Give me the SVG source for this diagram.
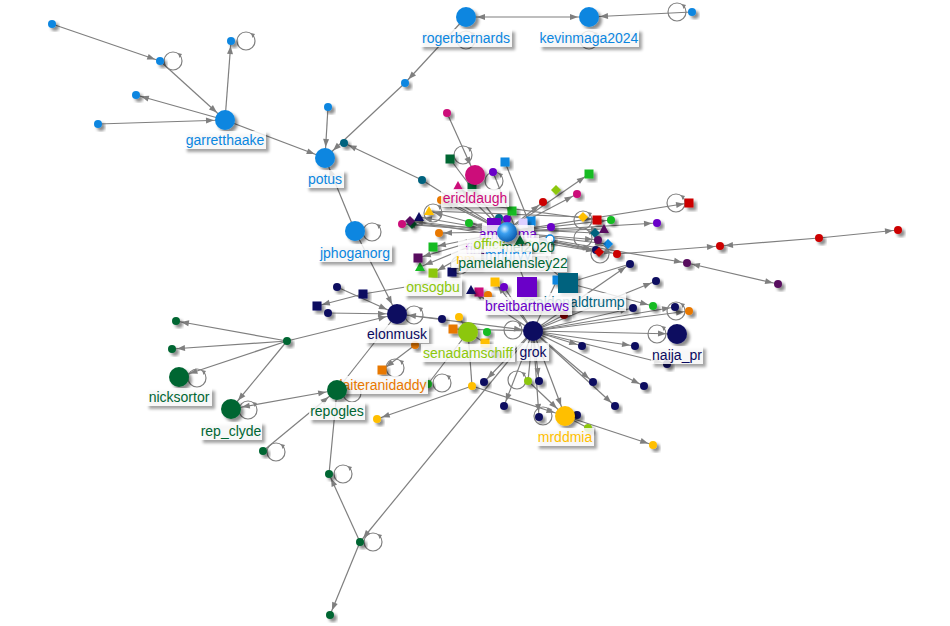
<svg xmlns="http://www.w3.org/2000/svg" xmlns:xlink="http://www.w3.org/1999/xlink" width="950" height="626" viewBox="0 0 950 626">
<style>
.e line{stroke:#7f7f7f;stroke-width:1.2;fill:none}
.a{marker-end:url(#ma)}.b{marker-end:url(#mb)}
.bb{marker-start:url(#mbs);marker-end:url(#mb)}.aa{marker-start:url(#mas);marker-end:url(#ma)}
.nd{filter:url(#sh)}
.lb rect{fill:#fff;fill-opacity:.8;filter:url(#ls)}
.lb text{font-family:"Liberation Sans",Arial,sans-serif;font-size:14px;text-anchor:middle}
.bl{fill:#0a86e0}.te{fill:#00627e}.mg{fill:#cc0a7a}.dg{fill:#006633}.nv{fill:#0a0a60}
.lm{fill:#8cc70a}.or{fill:#e87800}.yl{fill:#ffbf00}.pu{fill:#6a00c8}.rd{fill:#cc0000}
.gr{fill:#12bb22}.dp{fill:#580a5e}.lv{fill:#ddd0ff}.dr{fill:#8a0000}
</style>
<defs>
<marker id="ma" markerUnits="userSpaceOnUse" markerWidth="9" markerHeight="7" refX="13" refY="3" orient="auto" overflow="visible"><path d="M0,0L8,3L0,6z" fill="#7f7f7f"/></marker>
<marker id="mas" markerUnits="userSpaceOnUse" markerWidth="9" markerHeight="7" refX="13" refY="3" orient="auto-start-reverse" overflow="visible"><path d="M0,0L8,3L0,6z" fill="#7f7f7f"/></marker>
<marker id="mb" markerUnits="userSpaceOnUse" markerWidth="9" markerHeight="7" refX="19" refY="3" orient="auto" overflow="visible"><path d="M0,0L8,3L0,6z" fill="#7f7f7f"/></marker>
<marker id="mbs" markerUnits="userSpaceOnUse" markerWidth="9" markerHeight="7" refX="19" refY="3" orient="auto-start-reverse" overflow="visible"><path d="M0,0L8,3L0,6z" fill="#7f7f7f"/></marker>
<filter id="sh" x="-50%" y="-50%" width="200%" height="200%"><feDropShadow dx="3" dy="3" stdDeviation="1.6" flood-color="#000" flood-opacity=".45"/></filter>
<filter id="ls" x="-20%" y="-40%" width="140%" height="180%"><feDropShadow dx="3" dy="3" stdDeviation="1.6" flood-color="#000" flood-opacity=".45"/></filter>
<radialGradient id="sph" cx=".38" cy=".35" r=".7"><stop offset="0" stop-color="#d8eeff"/><stop offset=".35" stop-color="#3a9ff0"/><stop offset="1" stop-color="#0857a8"/></radialGradient>
<circle id="dt" r="4"/>
<rect id="sq" x="-4.5" y="-4.5" width="9" height="9"/>
<path id="di" d="M0,-5L5,0L0,5L-5,0z"/>
<path id="tr" d="M0,-5L5,4L-5,4z"/>
<g id="lp"><circle r="9" fill="none" stroke="#808080" stroke-width="1.2"/><path d="M5,-8l1.5,5l2.5,-4z" fill="#808080"/></g>
</defs>
<rect width="950" height="626" fill="#fff"/>
<g id="connectors" class="e">
<line x1="466" y1="17" x2="589" y2="17" class="bb"/>
<line x1="692" y1="12" x2="589" y2="17" class="b"/>
<line x1="466" y1="17" x2="405" y2="83" class="a"/>
<line x1="405" y1="83" x2="325" y2="158" class="b"/>
<line x1="328" y1="107" x2="325" y2="158" class="b"/>
<line x1="225" y1="120" x2="325" y2="158" class="b"/>
<line x1="52" y1="24" x2="160" y2="61" class="a"/>
<line x1="160" y1="61" x2="225" y2="120" class="b"/>
<line x1="225" y1="120" x2="231" y2="41" class="a"/>
<line x1="225" y1="120" x2="136" y2="95" class="a"/>
<line x1="98" y1="124" x2="225" y2="120" class="b"/>
<line x1="355" y1="231" x2="325" y2="158" class="b"/>
<line x1="355" y1="231" x2="397" y2="314" class="b"/>
<line x1="422" y1="180" x2="344" y2="143" class="a"/>
<line x1="505" y1="232" x2="422" y2="180"/>
<line x1="447" y1="113" x2="475" y2="175" class="b"/>
<line x1="450" y1="159" x2="505" y2="232"/>
<line x1="505" y1="162" x2="540" y2="250"/>
<line x1="493" y1="172" x2="520" y2="240"/>
<line x1="505" y1="232" x2="402" y2="224" class="a"/>
<line x1="505" y1="232" x2="410" y2="221" class="a"/>
<line x1="505" y1="232" x2="419" y2="217" class="a"/>
<line x1="505" y1="232" x2="429" y2="211" class="a"/>
<line x1="505" y1="232" x2="441" y2="200" class="a"/>
<line x1="505" y1="232" x2="446" y2="200" class="a"/>
<line x1="505" y1="232" x2="458" y2="186" class="a"/>
<line x1="505" y1="232" x2="472" y2="187" class="a"/>
<line x1="505" y1="232" x2="433" y2="247" class="a"/>
<line x1="505" y1="232" x2="418" y2="258" class="a"/>
<line x1="505" y1="232" x2="420" y2="267" class="a"/>
<line x1="505" y1="232" x2="433" y2="273" class="a"/>
<line x1="505" y1="232" x2="452" y2="272" class="a"/>
<line x1="505" y1="232" x2="439" y2="233" class="a"/>
<line x1="505" y1="232" x2="469" y2="223" class="a"/>
<line x1="505" y1="232" x2="589" y2="174" class="a"/>
<line x1="505" y1="232" x2="577" y2="194" class="a"/>
<line x1="505" y1="232" x2="543" y2="202" class="a"/>
<line x1="505" y1="232" x2="689" y2="203" class="a"/>
<line x1="505" y1="232" x2="657" y2="223" class="a"/>
<line x1="505" y1="232" x2="611" y2="220" class="a"/>
<line x1="505" y1="232" x2="617" y2="254" class="a"/>
<line x1="505" y1="232" x2="687" y2="263" class="a"/>
<line x1="505" y1="232" x2="604" y2="229" class="a"/>
<line x1="505" y1="232" x2="598" y2="240" class="a"/>
<line x1="505" y1="232" x2="608" y2="244" class="a"/>
<line x1="505" y1="232" x2="596" y2="250" class="a"/>
<line x1="505" y1="232" x2="599" y2="252" class="a"/>
<line x1="446" y1="200" x2="597" y2="220" class="a"/>
<line x1="429" y1="211" x2="583" y2="217"/>
<line x1="410" y1="221" x2="599" y2="252"/>
<line x1="402" y1="224" x2="595" y2="233"/>
<line x1="617" y1="254" x2="720" y2="246" class="a"/>
<line x1="687" y1="263" x2="778" y2="284" class="aa"/>
<line x1="819" y1="238" x2="720" y2="246" class="a"/>
<line x1="819" y1="238" x2="898" y2="230" class="a"/>
<line x1="568" y1="283" x2="653" y2="306" class="a"/>
<line x1="568" y1="283" x2="630" y2="264"/>
<line x1="505" y1="232" x2="527" y2="287"/>
<line x1="505" y1="232" x2="568" y2="283"/>
<line x1="533" y1="331" x2="630" y2="264" class="a"/>
<line x1="533" y1="331" x2="656" y2="281" class="a"/>
<line x1="533" y1="331" x2="633" y2="308" class="a"/>
<line x1="533" y1="331" x2="675" y2="307" class="a"/>
<line x1="533" y1="331" x2="677" y2="334" class="b"/>
<line x1="533" y1="331" x2="582" y2="346" class="a"/>
<line x1="533" y1="331" x2="635" y2="346" class="a"/>
<line x1="533" y1="331" x2="667" y2="364" class="a"/>
<line x1="533" y1="331" x2="593" y2="382" class="a"/>
<line x1="533" y1="331" x2="615" y2="406" class="a"/>
<line x1="533" y1="331" x2="644" y2="386" class="a"/>
<line x1="533" y1="331" x2="565" y2="416" class="b"/>
<line x1="533" y1="331" x2="539" y2="381" class="a"/>
<line x1="533" y1="331" x2="539" y2="417" class="a"/>
<line x1="533" y1="331" x2="504" y2="406" class="a"/>
<line x1="533" y1="331" x2="484" y2="382" class="a"/>
<line x1="533" y1="331" x2="528" y2="381"/>
<line x1="533" y1="331" x2="360" y2="542" class="a"/>
<line x1="533" y1="331" x2="564" y2="315"/>
<line x1="533" y1="331" x2="471" y2="290" class="a"/>
<line x1="533" y1="331" x2="504" y2="287"/>
<line x1="533" y1="331" x2="495" y2="282" class="a"/>
<line x1="533" y1="331" x2="557" y2="280"/>
<line x1="533" y1="331" x2="689" y2="311" class="a"/>
<line x1="397" y1="314" x2="533" y2="331" class="b"/>
<line x1="453" y1="329" x2="533" y2="331"/>
<line x1="459" y1="317" x2="468" y2="332"/>
<line x1="485" y1="343" x2="468" y2="332"/>
<line x1="468" y1="332" x2="472" y2="386"/>
<line x1="472" y1="386" x2="377" y2="419" class="a"/>
<line x1="472" y1="386" x2="565" y2="416" class="b"/>
<line x1="528" y1="381" x2="565" y2="416" class="b"/>
<line x1="565" y1="416" x2="653" y2="445" class="a"/>
<line x1="565" y1="416" x2="588" y2="428"/>
<line x1="415" y1="345" x2="382" y2="370" class="a"/>
<line x1="428" y1="384" x2="468" y2="332"/>
<line x1="442" y1="319" x2="397" y2="314" class="b"/>
<line x1="337" y1="287" x2="397" y2="314" class="b"/>
<line x1="328" y1="313" x2="397" y2="314" class="b"/>
<line x1="287" y1="341" x2="397" y2="314" class="b"/>
<line x1="430" y1="283" x2="363" y2="294"/>
<line x1="363" y1="294" x2="317" y2="306" class="a"/>
<line x1="337" y1="390" x2="397" y2="314"/>
<line x1="287" y1="341" x2="176" y2="321" class="a"/>
<line x1="287" y1="341" x2="172" y2="349" class="a"/>
<line x1="287" y1="341" x2="179" y2="377" class="b"/>
<line x1="287" y1="341" x2="231" y2="409" class="b"/>
<line x1="231" y1="409" x2="337" y2="390" class="bb"/>
<line x1="263" y1="451" x2="337" y2="390" class="b"/>
<line x1="337" y1="390" x2="329" y2="474"/>
<line x1="360" y1="542" x2="329" y2="474" class="a"/>
<line x1="360" y1="542" x2="330" y2="615" class="a"/>
<use href="#lp" x="677" y="12"/><use href="#lp" x="173" y="61"/><use href="#lp" x="246" y="41"/>
<use href="#lp" x="372" y="232"/><use href="#lp" x="414" y="315"/><use href="#lp" x="197" y="378"/>
<use href="#lp" x="248" y="410"/><use href="#lp" x="276" y="452"/><use href="#lp" x="343" y="474"/>
<use href="#lp" x="373" y="542"/><use href="#lp" x="657" y="334"/><use href="#lp" x="676" y="203"/>
<use href="#lp" x="583" y="220"/><use href="#lp" x="463" y="155"/><use href="#lp" x="494" y="181"/>
<use href="#lp" x="433" y="213"/><use href="#lp" x="395" y="368"/><use href="#lp" x="442" y="383"/>
<use href="#lp" x="517" y="380"/><use href="#lp" x="543" y="416"/><use href="#lp" x="676" y="311"/>
<use href="#lp" x="583" y="238"/><use href="#lp" x="600" y="254"/><use href="#lp" x="352" y="393"/>
<use href="#lp" x="466" y="40"/><use href="#lp" x="589" y="40"/><use href="#lp" x="513" y="330"/>
<use href="#lp" x="460" y="265"/><use href="#lp" x="540" y="262"/>
</g>
<g id="nodes">
<g id="n-b3" class="nd"><use href="#dt" x="692" y="12" class="bl"/></g>
<g id="n-b4" class="nd"><use href="#dt" x="405" y="83" class="bl"/></g>
<g id="n-b5" class="nd"><use href="#dt" x="328" y="107" class="bl"/></g>
<g id="n-b8" class="nd"><use href="#dt" x="52" y="24" class="bl"/></g>
<g id="n-b9" class="nd"><use href="#dt" x="160" y="61" class="bl"/></g>
<g id="n-b10" class="nd"><use href="#dt" x="231" y="41" class="bl"/></g>
<g id="n-b11" class="nd"><use href="#dt" x="136" y="95" class="bl"/></g>
<g id="n-b12" class="nd"><use href="#dt" x="98" y="124" class="bl"/></g>
<g id="n-b14" class="nd"><use href="#sq" x="505" y="162" class="bl"/></g>
<g id="n-b15" class="nd"><use href="#sq" x="531" y="221" class="bl"/></g>
<g id="n-b16" class="nd"><use href="#di" x="608" y="244" class="bl"/></g>
<g id="n-b17" class="nd"><use href="#sq" x="557" y="280" class="bl"/></g>
<g id="n-b18" class="nd"><circle cx="550" cy="239" r="4" fill="#fff" stroke="#0a86e0" stroke-width="1.3"/></g>
<g id="n-t1" class="nd"><use href="#dt" x="344" y="143" class="te"/></g>
<g id="n-t2" class="nd"><use href="#dt" x="422" y="180" class="te"/></g>
<g id="n-t3" class="nd"><use href="#di" x="595" y="233" class="te"/></g>
<g id="n-t4" class="nd"><use href="#dt" x="499" y="218" class="te"/></g>
<g id="n-m1" class="nd"><use href="#dt" x="447" y="113" class="mg"/></g>
<g id="n-m2" class="nd"><use href="#tr" x="458" y="186" class="mg"/></g>
<g id="n-m3" class="nd"><use href="#dt" x="402" y="224" class="mg"/></g>
<g id="n-m4" class="nd"><use href="#dt" x="577" y="194" class="mg"/></g>
<g id="n-m5" class="nd"><use href="#sq" x="479" y="292" class="mg"/></g>
<g id="n-g1" class="nd"><use href="#sq" x="450" y="159" class="dg"/></g>
<g id="n-g2" class="nd"><use href="#sq" x="472" y="187" class="dg"/></g>
<g id="n-g3" class="nd"><use href="#di" x="412" y="224" class="dg"/></g>
<g id="n-g4" class="nd"><use href="#dt" x="176" y="321" class="dg"/></g>
<g id="n-g5" class="nd"><use href="#dt" x="172" y="349" class="dg"/></g>
<g id="n-g6" class="nd"><use href="#dt" x="287" y="341" class="dg"/></g>
<g id="n-g7" class="nd"><use href="#dt" x="263" y="451" class="dg"/></g>
<g id="n-g8" class="nd"><use href="#dt" x="329" y="474" class="dg"/></g>
<g id="n-g9" class="nd"><use href="#dt" x="360" y="542" class="dg"/></g>
<g id="n-g10" class="nd"><use href="#dt" x="330" y="615" class="dg"/></g>
<g id="n-v1" class="nd"><use href="#tr" x="419" y="217" class="nv"/></g>
<g id="n-v2" class="nd"><use href="#sq" x="452" y="272" class="nv"/></g>
<g id="n-v3" class="nd"><use href="#tr" x="471" y="290" class="nv"/></g>
<g id="n-v4" class="nd"><use href="#dt" x="337" y="287" class="nv"/></g>
<g id="n-v5" class="nd"><use href="#sq" x="363" y="294" class="nv"/></g>
<g id="n-v6" class="nd"><use href="#sq" x="317" y="306" class="nv"/></g>
<g id="n-v7" class="nd"><use href="#dt" x="328" y="313" class="nv"/></g>
<g id="n-v8" class="nd"><use href="#dt" x="442" y="319" class="nv"/></g>
<g id="n-v9" class="nd"><use href="#dt" x="630" y="264" class="nv"/></g>
<g id="n-v10" class="nd"><use href="#dt" x="656" y="281" class="nv"/></g>
<g id="n-v11" class="nd"><use href="#dt" x="633" y="308" class="nv"/></g>
<g id="n-v12" class="nd"><use href="#dt" x="675" y="307" class="nv"/></g>
<g id="n-v13" class="nd"><use href="#dt" x="582" y="346" class="nv"/></g>
<g id="n-v14" class="nd"><use href="#dt" x="635" y="346" class="nv"/></g>
<g id="n-v15" class="nd"><use href="#dt" x="667" y="364" class="nv"/></g>
<g id="n-v16" class="nd"><use href="#dt" x="593" y="382" class="nv"/></g>
<g id="n-v17" class="nd"><use href="#dt" x="615" y="406" class="nv"/></g>
<g id="n-v18" class="nd"><use href="#dt" x="644" y="386" class="nv"/></g>
<g id="n-v19" class="nd"><use href="#dt" x="539" y="381" class="nv"/></g>
<g id="n-v20" class="nd"><use href="#dt" x="539" y="417" class="nv"/></g>
<g id="n-v21" class="nd"><use href="#dt" x="504" y="406" class="nv"/></g>
<g id="n-v22" class="nd"><use href="#dt" x="484" y="382" class="nv"/></g>
<g id="n-v23" class="nd"><use href="#dt" x="577" y="415" class="nv"/></g>
<g id="n-v24" class="nd"><use href="#dt" x="495" y="354" class="nv"/></g>
<g id="n-v25" class="nd"><use href="#dt" x="596" y="250" class="nv"/></g>
<g id="n-v26" class="nd"><use href="#dt" x="497" y="236" class="nv"/></g>
<g id="n-l1" class="nd"><use href="#di" x="446" y="200" class="lm"/></g>
<g id="n-l2" class="nd"><use href="#di" x="556" y="190" class="lm"/></g>
<g id="n-l4" class="nd"><use href="#dt" x="528" y="381" class="lm"/></g>
<g id="n-l5" class="nd"><use href="#dt" x="588" y="428" class="lm"/></g>
<g id="n-o1" class="nd"><use href="#dt" x="441" y="200" class="or"/></g>
<g id="n-o2" class="nd"><use href="#dt" x="439" y="233" class="or"/></g>
<g id="n-o3" class="nd"><use href="#dt" x="488" y="295" class="or"/></g>
<g id="n-o4" class="nd"><use href="#sq" x="453" y="329" class="or"/></g>
<g id="n-o5" class="nd"><use href="#dt" x="415" y="345" class="or"/></g>
<g id="n-o7" class="nd"><use href="#dt" x="689" y="311" class="or"/></g>
<g id="n-y1" class="nd"><use href="#tr" x="429" y="211" class="yl"/></g>
<g id="n-y2" class="nd"><use href="#di" x="583" y="217" class="yl"/></g>
<g id="n-y3" class="nd"><use href="#sq" x="495" y="282" class="yl"/></g>
<g id="n-y4" class="nd"><use href="#dt" x="459" y="317" class="yl"/></g>
<g id="n-y5" class="nd"><use href="#sq" x="485" y="343" class="yl"/></g>
<g id="n-y6" class="nd"><use href="#dt" x="472" y="386" class="yl"/></g>
<g id="n-y7" class="nd"><use href="#dt" x="377" y="419" class="yl"/></g>
<g id="n-y8" class="nd"><use href="#dt" x="653" y="445" class="yl"/></g>
<g id="n-p1" class="nd"><use href="#dt" x="493" y="172" class="pu"/></g>
<g id="n-p3" class="nd"><use href="#dt" x="507" y="219" class="pu"/></g>
<g id="n-p4" class="nd"><use href="#dt" x="551" y="227" class="pu"/></g>
<g id="n-p5" class="nd"><use href="#dt" x="657" y="223" class="pu"/></g>
<g id="n-p6" class="nd"><use href="#dt" x="504" y="287" class="pu"/></g>
<g id="n-r1" class="nd"><use href="#dt" x="543" y="202" class="rd"/></g>
<g id="n-r2" class="nd"><use href="#sq" x="597" y="220" class="rd"/></g>
<g id="n-r3" class="nd"><use href="#sq" x="689" y="203" class="rd"/></g>
<g id="n-r4" class="nd"><use href="#di" x="599" y="252" class="rd"/></g>
<g id="n-r5" class="nd"><use href="#dt" x="617" y="254" class="rd"/></g>
<g id="n-r6" class="nd"><use href="#dt" x="720" y="246" class="rd"/></g>
<g id="n-r7" class="nd"><use href="#dt" x="819" y="238" class="rd"/></g>
<g id="n-r8" class="nd"><use href="#dt" x="898" y="230" class="rd"/></g>
<g id="n-r9" class="nd"><use href="#dt" x="564" y="315" class="dr"/></g>
<g id="n-e1" class="nd"><use href="#sq" x="589" y="174" class="gr"/></g>
<g id="n-e2" class="nd"><use href="#dt" x="469" y="223" class="gr"/></g>
<g id="n-e3" class="nd"><use href="#sq" x="512" y="211" class="gr"/></g>
<g id="n-e4" class="nd"><use href="#sq" x="433" y="247" class="gr"/></g>
<g id="n-e5" class="nd"><use href="#tr" x="420" y="267" class="gr"/></g>
<g id="n-e6" class="nd"><use href="#dt" x="611" y="220" class="gr"/></g>
<g id="n-e7" class="nd"><use href="#dt" x="653" y="306" class="gr"/></g>
<g id="n-e8" class="nd"><use href="#dt" x="487" y="332" class="gr"/></g>
<g id="n-e9" class="nd"><use href="#dt" x="428" y="384" class="gr"/></g>
<g id="n-d1" class="nd"><use href="#di" x="410" y="221" class="dp"/></g>
<g id="n-d2" class="nd"><use href="#sq" x="418" y="258" class="dp"/></g>
<g id="n-d3" class="nd"><use href="#tr" x="604" y="229" class="dp"/></g>
<g id="n-d4" class="nd"><use href="#dt" x="598" y="240" class="dp"/></g>
<g id="n-d5" class="nd"><use href="#dt" x="687" y="263" class="dp"/></g>
<g id="n-d6" class="nd"><use href="#dt" x="778" y="284" class="dp"/></g>
<g id="n-lv" class="nd"><use href="#sq" x="523" y="223" class="lv"/></g>
<g id="n-onsogbu"><use href="#sq" x="433" y="273" class="lm nd"/><g class="lb"><rect x="404" y="278" width="58" height="18"/><text x="433" y="292" class="lm">onsogbu</text></g></g>
<g id="n-ericldaugh"><circle cx="475" cy="175" r="10" class="mg nd"/><g class="lb"><rect x="441" y="189" width="68" height="18"/><text x="475" y="203" class="mg">ericldaugh</text></g></g>
<g id="n-ama"><rect x="487" y="218" width="14" height="14" class="pu nd"/><g class="lb"><rect x="482" y="225" width="52" height="18"/><text x="508" y="239" class="pu">ammama</text></g></g>
<g id="lbl-finstr" class="lb"><rect x="458" y="240" width="46" height="18"/><text x="481" y="254" class="pu">finstr</text></g>
<g id="lbl-officia" class="lb"><rect x="467" y="235" width="72" height="18"/><text x="503" y="249" class="lm">officialnat</text></g>
<g id="lbl-20" class="lb"><rect x="505" y="238" width="46" height="18"/><text x="528" y="252" class="dg">mel2020</text></g>
<g id="n-g11"><use href="#tr" x="520" y="240" class="dg nd"/></g>
<g id="n-mrlurvy"><circle cx="507" cy="232" r="10" fill="url(#sph)" class="nd"/><g class="lb"><rect x="484" y="246" width="48" height="18"/><text x="508" y="260" class="bl">mrlurvy</text></g></g>
<g id="lbl-n" class="lb"><rect x="451" y="250" width="30" height="18"/><text x="466" y="264" class="yl">nm</text></g>
<g id="lbl-pamela" class="lb"><rect x="459" y="254" width="108" height="18"/><text x="513" y="268" class="dg">pamelahensley22</text></g>
<g id="n-realdonaldtrump"><rect x="558" y="273" width="20" height="20" class="te nd"/><g class="lb"><rect x="522" y="293" width="104" height="18"/><text x="574" y="307" class="te">realdonaldtrump</text></g></g>
<g id="n-breitbartnews"><rect x="517" y="277" width="20" height="20" class="pu nd"/><g class="lb"><rect x="484" y="297" width="88" height="18"/><text x="527" y="311" class="pu">breitbartnews</text></g></g>
<g id="n-rogerbernards"><circle cx="466" cy="17" r="10" class="bl nd"/><g class="lb"><rect x="420" y="29" width="92" height="18"/><text x="466" y="43" class="bl">rogerbernards</text></g></g>
<g id="n-kevinmaga2024"><circle cx="589" cy="17" r="10" class="bl nd"/><g class="lb"><rect x="539" y="29" width="100" height="18"/><text x="589" y="43" class="bl">kevinmaga2024</text></g></g>
<g id="n-garretthaake"><circle cx="225" cy="120" r="10" class="bl nd"/><g class="lb"><rect x="184" y="131" width="82" height="18"/><text x="225" y="145" class="bl">garretthaake</text></g></g>
<g id="n-potus"><circle cx="325" cy="158" r="10" class="bl nd"/><g class="lb"><rect x="306" y="170" width="38" height="18"/><text x="325" y="184" class="bl">potus</text></g></g>
<g id="n-jphoganorg"><circle cx="355" cy="231" r="10" class="bl nd"/><g class="lb"><rect x="318" y="244" width="74" height="18"/><text x="355" y="258" class="bl">jphoganorg</text></g></g>
<g id="n-elonmusk"><circle cx="397" cy="314" r="10" class="nv nd"/><g class="lb"><rect x="365" y="325" width="64" height="18"/><text x="397" y="339" class="nv">elonmusk</text></g></g>
<g id="n-senadamschiff"><circle cx="468" cy="332" r="10" class="lm nd"/><g class="lb"><rect x="421" y="344" width="94" height="18"/><text x="468" y="358" class="lm">senadamschiff</text></g></g>
<g id="n-grok"><circle cx="533" cy="331" r="10" class="nv nd"/><g class="lb"><rect x="517" y="343" width="32" height="18"/><text x="533" y="357" class="nv">grok</text></g></g>
<g id="n-naija_pr"><circle cx="677" cy="334" r="10" class="nv nd"/><g class="lb"><rect x="651" y="346" width="52" height="18"/><text x="677" y="360" class="nv">naija_pr</text></g></g>
<g id="n-mrddmia"><circle cx="565" cy="416" r="10" class="yl nd"/><g class="lb"><rect x="536" y="428" width="58" height="18"/><text x="565" y="442" class="yl">mrddmia</text></g></g>
<g id="n-laiteranidaddy"><use href="#sq" x="382" y="370" class="or nd"/><g class="lb"><rect x="338" y="376" width="90" height="18"/><text x="383" y="390" class="or">laiteranidaddy</text></g></g>
<g id="n-repogles"><circle cx="337" cy="390" r="10" class="dg nd"/><g class="lb"><rect x="309" y="402" width="56" height="18"/><text x="337" y="416" class="dg">repogles</text></g></g>
<g id="n-nicksortor"><circle cx="179" cy="377" r="10" class="dg nd"/><g class="lb"><rect x="146" y="388" width="66" height="18"/><text x="179" y="402" class="dg">nicksortor</text></g></g>
<g id="n-rep_clyde"><circle cx="231" cy="409" r="10" class="dg nd"/><g class="lb"><rect x="200" y="422" width="62" height="18"/><text x="231" y="436" class="dg">rep_clyde</text></g></g>
</g>
</svg>
